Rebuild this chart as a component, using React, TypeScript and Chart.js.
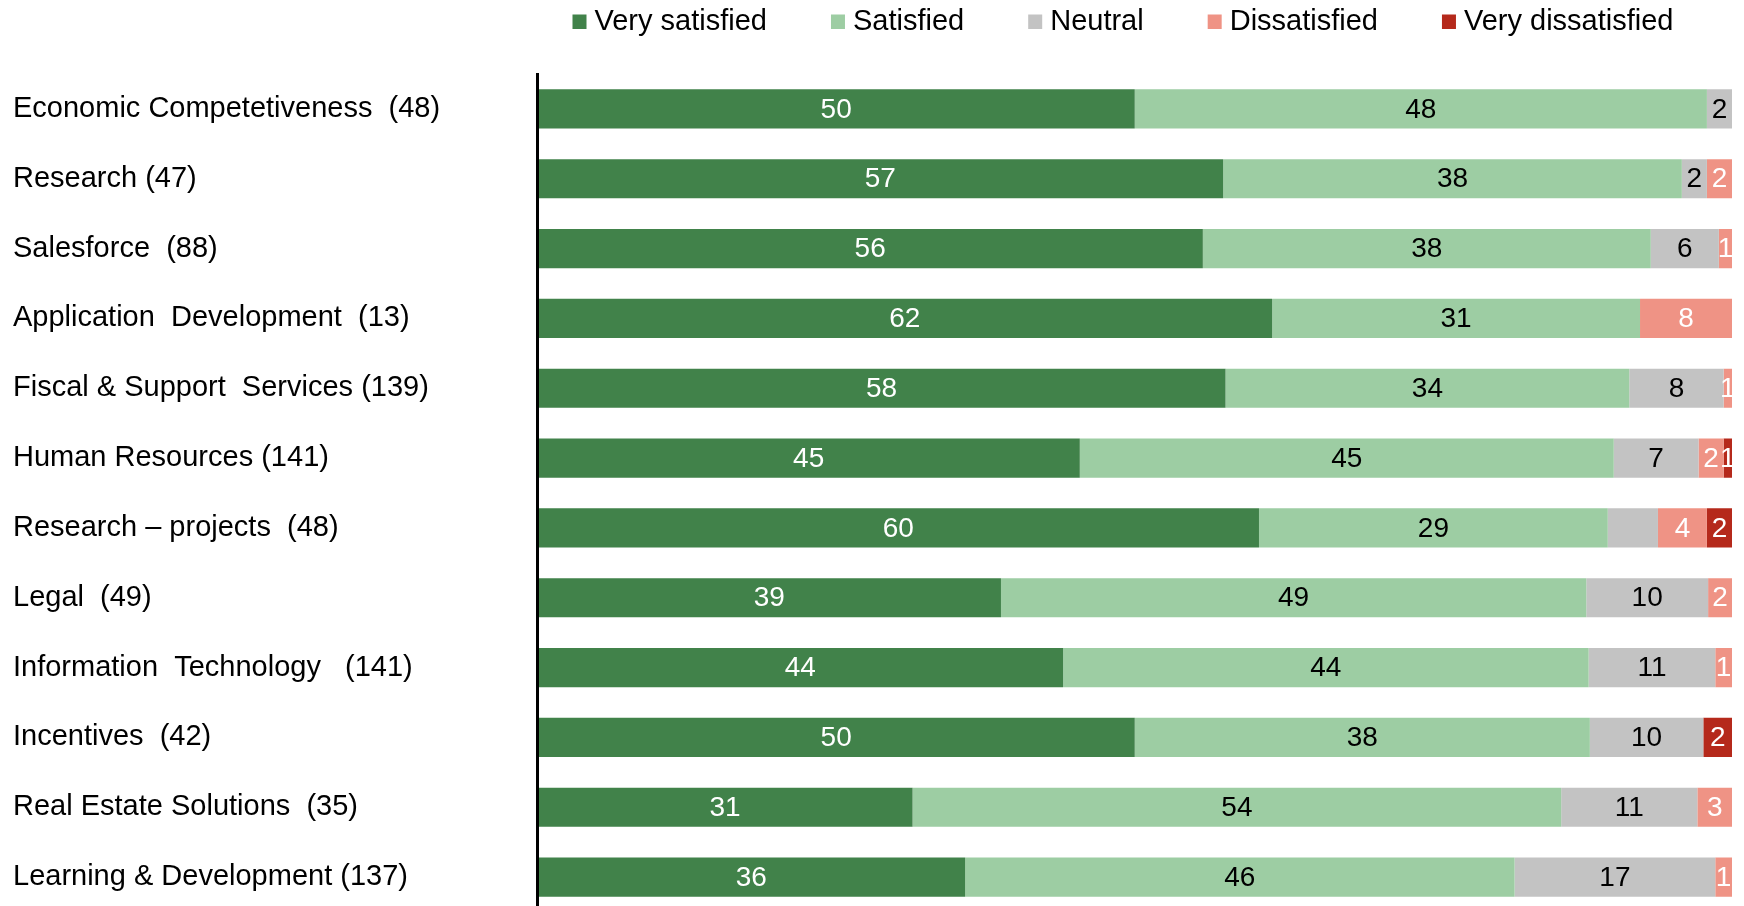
import React, { useEffect, useRef } from "react";
import { Chart, registerables } from "chart.js";

Chart.register(...registerables);

const categories = [
  "Economic Competetiveness  (48)",
  "Research (47)",
  "Salesforce  (88)",
  "Application  Development  (13)",
  "Fiscal & Support  Services (139)",
  "Human Resources (141)",
  "Research – projects  (48)",
  "Legal  (49)",
  "Information  Technology   (141)",
  "Incentives  (42)",
  "Real Estate Solutions  (35)",
  "Learning & Development (137)",
];

const verySatisfied = [50.0, 57.4, 55.7, 61.5, 57.6, 45.4, 60.4, 38.8, 44.0, 50.0, 31.4, 35.8];
const satisfied = [47.9, 38.4, 37.5, 30.8, 33.8, 44.7, 29.2, 49.0, 44.0, 38.1, 54.3, 46.0];
const neutral = [2.1, 2.1, 5.7, 0, 7.9, 7.1, 4.2, 10.2, 10.6, 9.5, 11.4, 16.8];
const dissatisfied = [0, 2.1, 1.1, 7.7, 0.7, 2.1, 4.1, 2.0, 1.4, 0, 2.9, 1.4];
const veryDissatisfied = [0, 0, 0, 0, 0, 0.7, 2.1, 0, 0, 2.4, 0, 0];

const seriesNames = ["Very satisfied", "Satisfied", "Neutral", "Dissatisfied", "Very dissatisfied"];
const seriesValues = [verySatisfied, satisfied, neutral, dissatisfied, veryDissatisfied];
const seriesColors = ["#41824A", "#9DCDA3", "#C3C3C3", "#EF9385", "#B5291B"];
const labelColors = ["#FFFFFF", "#000000", "#000000", "#FFFFFF", "#FFFFFF"];
const hiddenLabels = ["Neutral:6"];

const FONT = '"Liberation Sans", Arial, Helvetica, sans-serif';

const legendPlugin = {
  id: "topLegend",
  afterDraw(chart: any) {
    const ctx = chart.ctx;
    const area = chart.chartArea;
    ctx.save();
    ctx.font = `29px ${FONT}`;
    ctx.textBaseline = "alphabetic";
    ctx.textAlign = "left";
    let x = area.left + 35;
    chart.data.datasets.forEach((ds: any) => {
      ctx.fillStyle = ds.backgroundColor;
      ctx.fillRect(x, 6.5, 14, 14.5);
      ctx.fillStyle = "#000000";
      ctx.fillText(ds.label, x + 22, 22);
      x += 22 + ctx.measureText(ds.label).width + 64;
    });
    ctx.restore();
  },
};

const valueLabelPlugin = {
  id: "valueLabels",
  afterDatasetsDraw(chart: any) {
    const ctx = chart.ctx;
    const area = chart.chartArea;
    ctx.save();
    ctx.beginPath();
    ctx.rect(area.left, area.top, area.right - area.left, area.bottom - area.top);
    ctx.clip();
    ctx.font = `28px ${FONT}`;
    ctx.textAlign = "center";
    ctx.textBaseline = "middle";
    chart.data.datasets.forEach((ds: any, di: number) => {
      const meta = chart.getDatasetMeta(di);
      meta.data.forEach((bar: any, i: number) => {
        const v = ds.data[i];
        if (!v) return;
        if (hiddenLabels.includes(`${ds.label}:${i}`)) return;
        const p = bar.getProps(["x", "base", "y"], true);
        ctx.fillStyle = labelColors[di];
        ctx.fillText(String(Math.round(v)), (p.x + p.base) / 2, p.y + 1);
      });
    });
    ctx.restore();
  },
};

export default function App() {
  const canvasRef = useRef<HTMLCanvasElement | null>(null);

  useEffect(() => {
    if (!canvasRef.current) return;
    const chart = new Chart(canvasRef.current, {
      type: "bar",
      data: {
        labels: categories,
        datasets: seriesNames.map((name, i) => ({
          label: name,
          data: seriesValues[i],
          backgroundColor: seriesColors[i],
          borderWidth: 0,
          barPercentage: 0.56,
          categoryPercentage: 1.0,
        })),
      },
      options: {
        indexAxis: "y",
        responsive: false,
        animation: false,
        devicePixelRatio: 1,
        layout: { padding: { left: 5, right: 12, top: 66, bottom: 2 } },
        plugins: {
          legend: { display: false },
          tooltip: { enabled: false },
          title: { display: false },
        },
        scales: {
          x: {
            stacked: true,
            min: 0,
            max: 100,
            display: false,
          },
          y: {
            stacked: true,
            grid: { display: false, drawTicks: false },
            border: { display: true, color: "#000000", width: 3, z: 1 },
            ticks: {
              autoSkip: false,
              crossAlign: "far",
              color: "#000000",
              font: { family: FONT, size: 29 },
              padding: 0,
            },
            afterFit(scale: any) {
              scale.width = 524.5;
              scale.paddingTop = 0;
              scale.paddingBottom = 0;
            },
          },
        },
      } as any,
      plugins: [legendPlugin, valueLabelPlugin],
    });
    return () => chart.destroy();
  }, []);

  return (
    <div style={{ height: 898, overflow: "hidden" }}>
      <canvas ref={canvasRef} width={1736} height={906} style={{ display: "block" }} />
    </div>
  );
}
